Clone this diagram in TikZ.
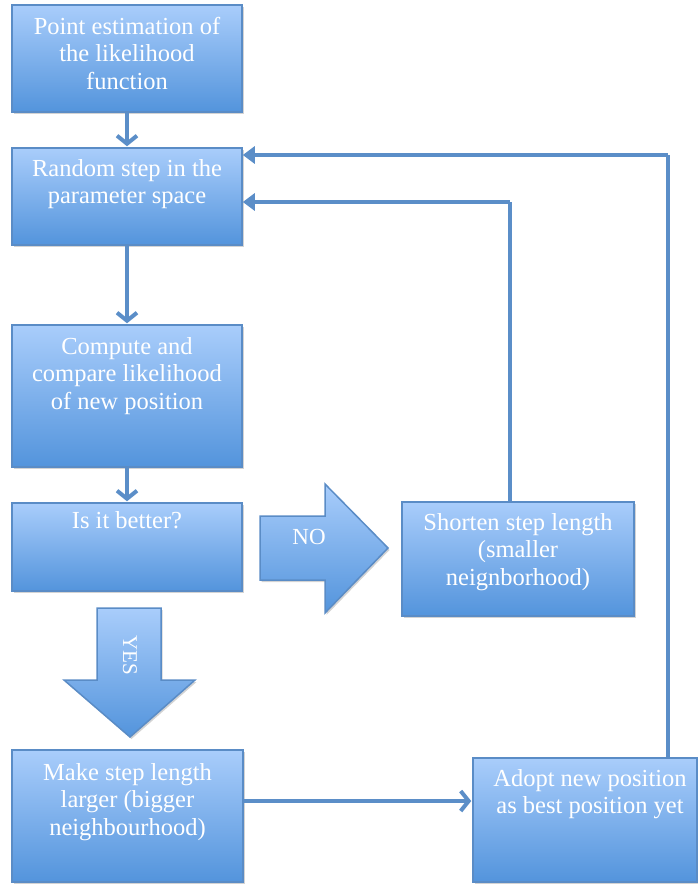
\documentclass[tikz,border=0pt]{standalone}
\usepackage{fontspec}
\setmainfont{Liberation Serif}
\usetikzlibrary{arrows.meta,shadows}
\definecolor{boxtop}{HTML}{A9CDFB}
\definecolor{boxbot}{HTML}{5394DC}
\definecolor{boxedge}{HTML}{5A8CC6}
\definecolor{linec}{HTML}{5B8EC8}
\tikzset{
  fbox/.style={rectangle, draw=boxedge, line width=1.5pt, top color=boxtop, bottom color=boxbot, inner sep=0pt,
    drop shadow={shadow xshift=1.5pt, shadow yshift=-2pt, opacity=0.35}},
  ftext/.style={text=white, align=center, font=\fontsize{24.5}{27.5}\selectfont, anchor=north, inner sep=0pt},
  conn/.style={draw=linec, line width=4pt, -{Straight Barb[length=8pt,width=20pt,line width=4pt]}},
  connf/.style={draw=linec, line width=4pt, -{Triangle[length=12pt,width=17pt]}},
  plainline/.style={draw=linec, line width=4pt},
  blockarrow/.style={draw=boxedge, line width=1.5pt, top color=boxtop, bottom color=boxbot,
    drop shadow={shadow xshift=1.5pt, shadow yshift=-2pt, opacity=0.35}}
}
\begin{document}
\begin{tikzpicture}[x=1pt,y=-1pt]
\useasboundingbox (0,0) rectangle (697,886);
% boxes
\node[fbox, minimum width=230pt, minimum height=107pt] (b1) at (127,58.5) {};
\node[ftext] (t1) at (127,17) {Point estimation of\\the likelihood\\function};
\node[fbox, minimum width=230pt, minimum height=97pt] (b2) at (127,196.5) {};
\node[ftext] (t2) at (127,159) {Random step in the\\parameter space};
\node[fbox, minimum width=230pt, minimum height=142pt] (b3) at (127,396) {};
\node[ftext] (t3) at (127,337) {Compute and\\compare likelihood\\of new position};
\node[fbox, minimum width=230pt, minimum height=88pt] (b4) at (127,547) {};
\node[ftext] (t4) at (127,511) {Is it better?};
\node[fbox, minimum width=232pt, minimum height=114pt] (b5) at (518,559) {};
\node[ftext] (t5) at (518,513) {Shorten step length\\(smaller\\neignborhood)};
\node[fbox, minimum width=231pt, minimum height=132pt] (b6) at (127.5,816) {};
\node[ftext] (t6) at (127.5,763) {Make step length\\larger (bigger\\neighbourhood)};
\node[fbox, minimum width=224pt, minimum height=124pt] (b7) at (585,820) {};
\node[ftext] (t7) at (590,769) {Adopt new position\\as best position yet};
% connectors
\coordinate (c5) at (510,202);
\coordinate (c7) at (668,155);
\draw[conn] (b1.south) -- ([yshift=1pt]b2.north);
\draw[conn] (b2.south) -- ([yshift=1pt]b3.north);
\draw[conn] (b3.south) -- ([yshift=1pt]b4.north);
\draw[conn] (b6.east |- 0,801) -- ([xshift=-1pt]b7.west |- 0,801);
\draw[plainline] (b5.north -| c5) -- (c5);
\draw[connf] (c5) -- (b2.east |- c5);
\draw[plainline] (b7.north -| c7) -- (c7);
\draw[connf] (c7) -- (b2.east |- c7);
% NO block arrow
\path[blockarrow] (260,516) -- (325,516) -- (325,484) -- (388,548) -- (325,613) -- (325,580) -- (260,580) -- cycle;
\node[text=white, font=\fontsize{23}{25}\selectfont] (no) at (309,537) {NO};
% YES block arrow
\path[blockarrow] (97,608) -- (161,608) -- (161,680) -- (195,680) -- (130,737) -- (64,680) -- (97,680) -- cycle;
\node[text=white, font=\fontsize{21}{25}\selectfont, rotate=-90] (yes) at (130,655) {YES};
\end{tikzpicture}
\end{document}
